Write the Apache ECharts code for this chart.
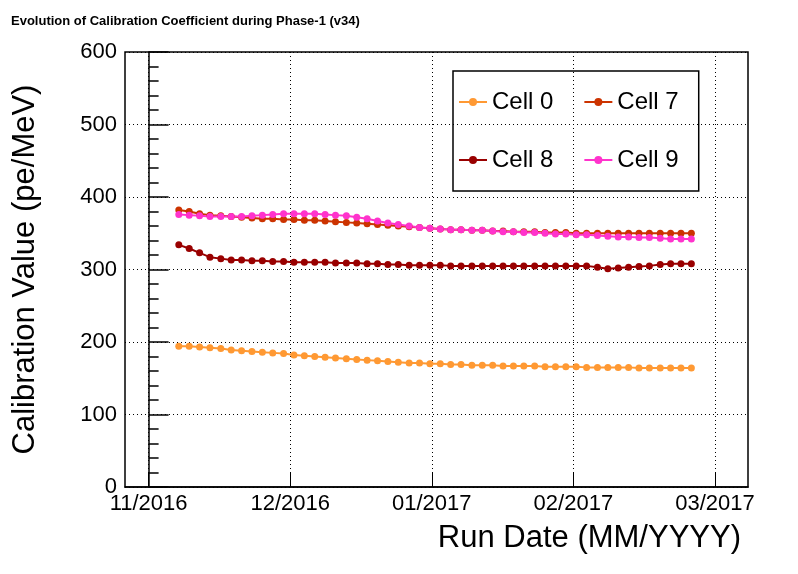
<!DOCTYPE html>
<html><head><meta charset="utf-8">
<script src="https://cdn.jsdelivr.net/npm/echarts@6/dist/echarts.min.js"></script>
<style>html,body{margin:0;padding:0;background:#fff}#c{width:798px;height:574px}</style>
</head><body><div id="c"></div>
<script>
// days since 2016-11-01
const days = [6.4,8.6,10.8,13.0,15.3,17.5,19.7,21.9,24.1,26.3,28.6,30.8,33.0,35.2,37.4,39.6,41.9,44.1,46.3,48.5,50.7,52.9,55.2,57.4,59.6,61.8,64.0,66.2,68.5,70.7,72.9,75.1,77.3,79.5,81.8,84.0,86.2,88.4,90.6,92.8,95.1,97.3,99.5,101.7,103.9,106.1,108.4,110.6,112.8,115.0];
const tickDays = [0,30,60,90,120];
const tickLabels = ['11/2016','12/2016','01/2017','02/2017','03/2017'];
const cell0 = [194,194,193,192,191,189,188,187,186,185,184,182,181,180,179,178,177,176,175,174,173,172,171,171,170,170,169,169,168,168,168,167,167,167,167,166,166,166,166,165,165,165,165,165,164,164,164,164,164,164];
const cell7 = [382,380,377,375,374,373,372,371,370,370,369,369,368,368,367,366,365,364,363,362,361,360,359,358,357,356,355,355,354,354,353,353,352,352,352,351,351,351,350,350,350,350,350,350,350,350,350,350,350,350];
const cell8 = [334,329,323,317,315,313,313,312,312,311,311,310,310,310,310,309,309,309,308,308,307,307,306,306,306,306,305,305,305,305,305,305,305,305,305,305,305,305,305,305,303,301,302,303,304,305,307,308,308,308];
const cell9 = [376,375,374,373,373,373,373,374,375,376,377,377,377,377,376,375,374,372,370,367,364,362,360,358,357,356,355,355,354,354,353,352,352,351,351,350,349,349,348,348,347,346,345,345,344,344,343,342,342,342];
const names = ['Cell 0','Cell 7','Cell 8','Cell 9'];
const colors = ['#ff9933','#cc3300','#990000','#ff33cc'];
const vals = [cell0,cell7,cell8,cell9];
const F = 'Liberation Sans, Arial, sans-serif';
const chart = echarts.init(document.getElementById('c'));
chart.setOption({
  animation:false,
  title:{text:'Evolution of Calibration Coefficient during Phase-1 (v34)',left:6,top:10,textStyle:{fontFamily:F,fontSize:13,fontWeight:'bold',color:'#000'}},
  grid:{left:125,right:50,top:52,bottom:87,show:true,borderColor:'#000',borderWidth:1.5,backgroundColor:'transparent'},
  legend:{left:453,top:71,orient:'horizontal',width:250,itemGap:30,itemWidth:28,itemHeight:10,
    borderColor:'#000',borderWidth:1.5,padding:[17,20,17,5],
    textStyle:{fontFamily:F,fontSize:24,color:'#000',lineHeight:28},data:names},
  xAxis:{type:'value',min:-5,max:127,
    name:'Run Date (MM/YYYY)',nameLocation:'end',nameGap:0,
    nameTextStyle:{fontFamily:F,fontSize:31,color:'#000',align:'right',verticalAlign:'top',padding:[36,7,0,0]},
    axisLine:{lineStyle:{color:'#000',width:1.5}},
    axisTick:{inside:true,length:14,customValues:tickDays,lineStyle:{color:'#000'}},
    axisLabel:{customValues:tickDays,formatter:v=>tickLabels[tickDays.indexOf(v)]||'',fontFamily:F,fontSize:22,color:'#000',margin:6},
    splitLine:{show:true,customValues:tickDays,lineStyle:{color:'#000',type:[1,3],width:1}}},
  yAxis:{type:'value',min:0,max:600,interval:100,
    name:'Calibration Value (pe/MeV)',nameLocation:'middle',nameGap:84,
    nameTextStyle:{fontFamily:F,fontSize:31,color:'#000'},
    axisLine:{lineStyle:{color:'#000',width:1.5}},
    axisTick:{inside:true,length:20,lineStyle:{color:'#000',width:1.5}},
    minorTick:{show:true,splitNumber:5,length:10,lineStyle:{color:'#000',width:1.5}},
    axisLabel:{fontFamily:F,fontSize:22,color:'#000',margin:8},
    splitLine:{show:true,lineStyle:{color:'#000',type:[1,3],width:1}}},
  series:vals.map((v,i)=>({name:names[i],type:'line',data:days.map((d,j)=>[d,v[j]]),
    symbol:'circle',symbolSize:7,itemStyle:{color:colors[i]},lineStyle:{color:colors[i],width:2}}))
});
</script></body></html>
